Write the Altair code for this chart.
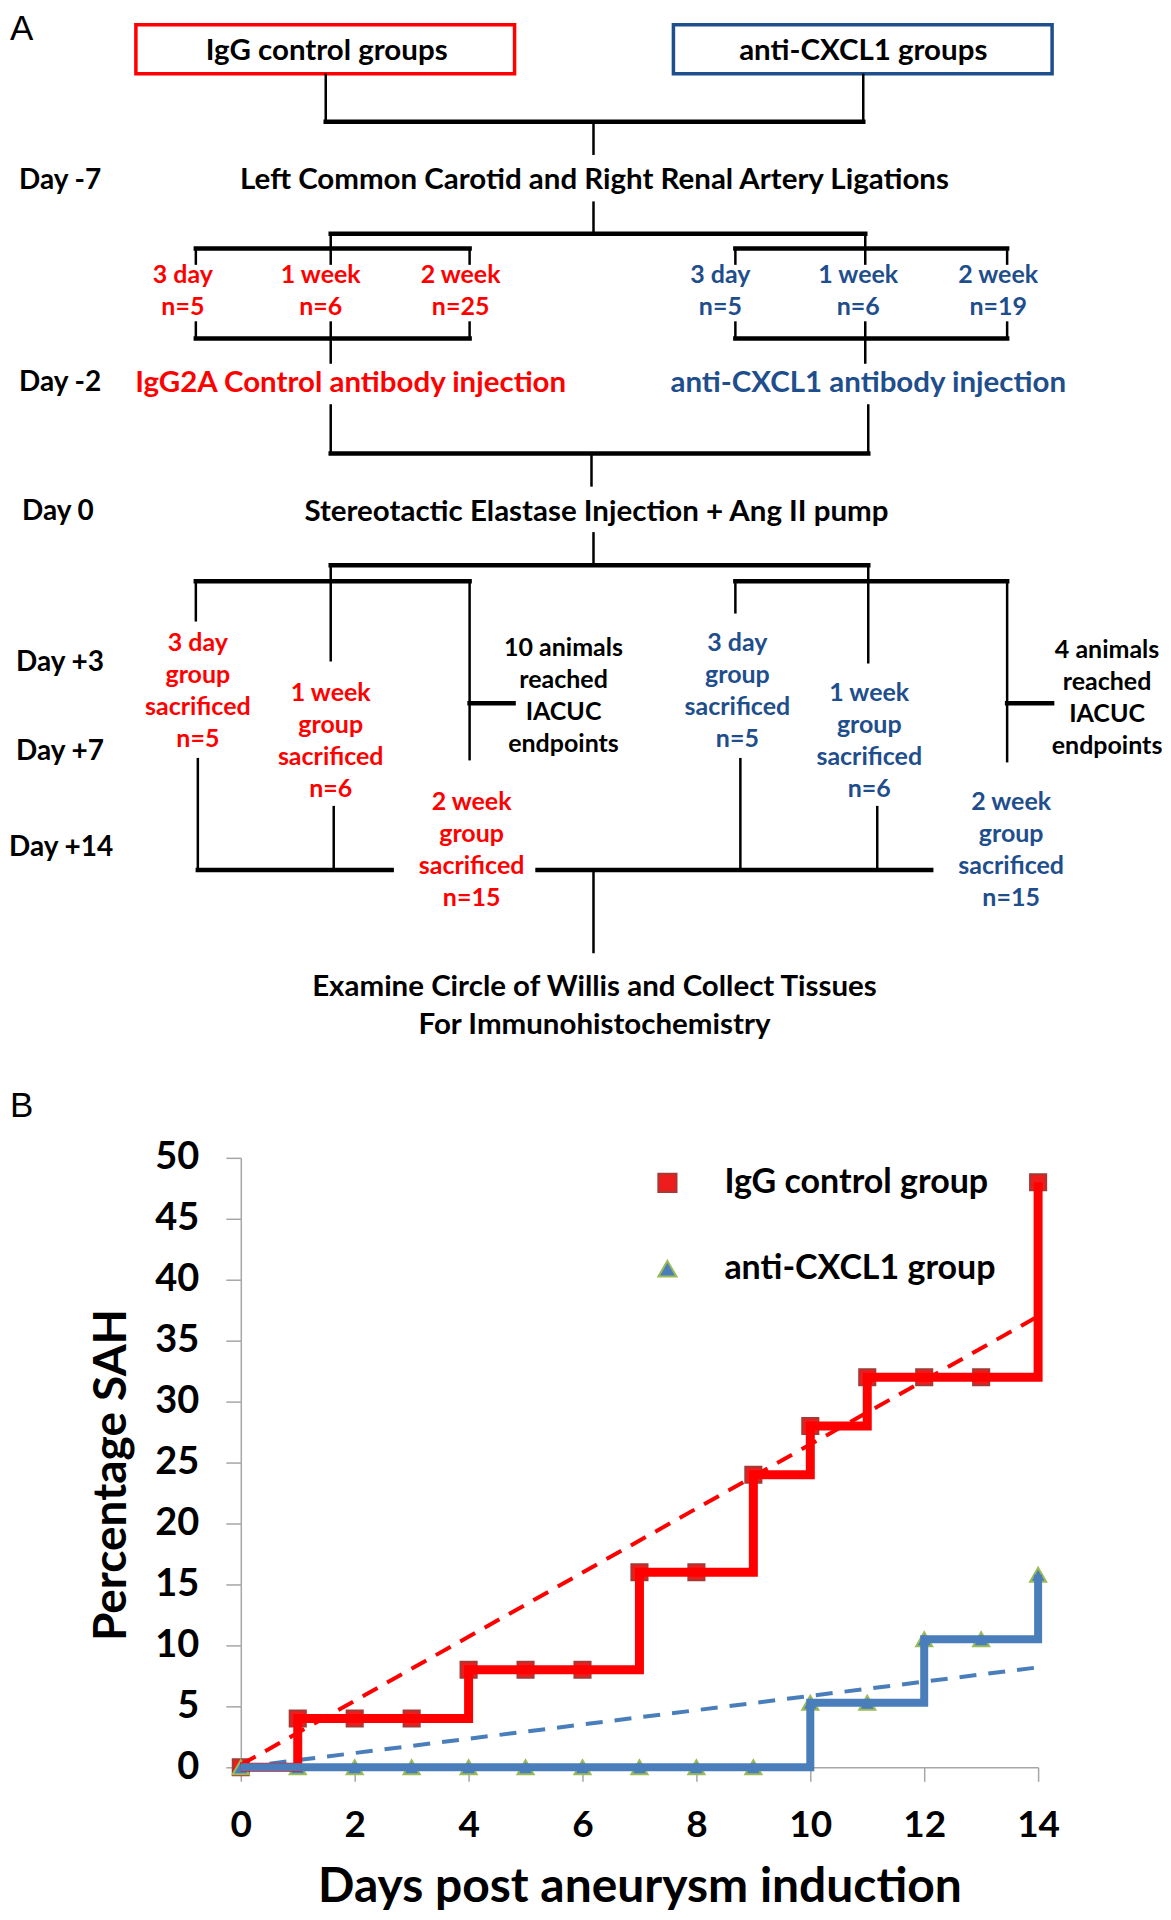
import altair as alt
import pandas as pd

# ---------------- Panel B data ----------------
days = list(range(15))
igg_pct = [0, 4, 4, 4, 8, 8, 8, 16, 16, 24, 28, 32, 32, 32, 48]
cxcl1_pct = [0, 0, 0, 0, 0, 0, 0, 0, 0, 0, 5.3, 5.3, 10.5, 10.5, 15.8]
trend_days = [0, 14]
igg_trend = [0.2, 37.0]
cxcl1_trend = [0.0, 8.2]
groups = ["IgG control group", "anti-CXCL1 group"]
x_ticks = [0, 2, 4, 6, 8, 10, 12, 14]
y_ticks = [0, 5, 10, 15, 20, 25, 30, 35, 40, 45, 50]

# ---------------- Panel A (flow diagram) content ----------------
box_role = ["red", "blue"]
day_text = ["Day -7", "Day -2", "Day 0", "Day +3", "Day +7", "Day +14"]

flow_text = [
    "IgG control groups", "anti-CXCL1 groups",
    "Left Common Carotid and Right Renal Artery Ligations",
    "3 day", "1 week", "2 week", "n=5", "n=6", "n=25",
    "3 day", "1 week", "2 week", "n=5", "n=6", "n=19",
    "IgG2A Control antibody injection", "anti-CXCL1 antibody injection",
    "Stereotactic Elastase Injection + Ang II pump",
    "3 day", "group", "sacrificed", "n=5",
    "1 week", "group", "sacrificed", "n=6",
    "10 animals", "reached", "IACUC", "endpoints",
    "3 day", "group", "sacrificed", "n=5",
    "1 week", "group", "sacrificed", "n=6",
    "4 animals", "reached", "IACUC", "endpoints",
    "2 week", "group", "sacrificed", "n=15",
    "2 week", "group", "sacrificed", "n=15",
    "Examine Circle of Willis and Collect Tissues", "For Immunohistochemistry",
]
flow_role = (
    ["black", "black", "black"]
    + ["red"] * 6 + ["blue"] * 6
    + ["red", "blue", "black"]
    + ["red"] * 8 + ["black"] * 4 + ["blue"] * 8 + ["black"] * 4
    + ["red"] * 4 + ["blue"] * 4
    + ["black", "black"]
)
flow_kind = (
    ["main"] * 3 + ["small"] * 12 + ["main"] * 3 + ["small"] * 32 + ["main"] * 2
)

# ---------------- Panel A layout (page pixels) ----------------
flow_x = (
    [327, 864, 595]
    + [183, 321, 461, 183, 321, 461]
    + [721, 859, 999, 721, 859, 999]
    + [351, 869, 597]
    + [198] * 4 + [331] * 4 + [564] * 4
    + [738] * 4 + [870] * 4 + [1108] * 4
    + [472] * 4 + [1012] * 4
    + [595, 595]
)
flow_y = (
    [50, 50, 179]
    + [274, 274, 274, 306, 306, 306]
    + [274, 274, 274, 306, 306, 306]
    + [383, 383, 512]
    + [643, 675, 707, 739] + [693, 725, 757, 789] + [648, 680, 712, 744]
    + [643, 675, 707, 739] + [693, 725, 757, 789] + [650, 682, 714, 746]
    + [802, 834, 866, 898] + [802, 834, 866, 898]
    + [987, 1025]
)
kind_size = {"main": 29.5, "small": 25}
role_color = {"black": "#000000", "red": "#ff0000", "blue": "#1f4e8c"}

day_x = [19, 19, 22, 16, 16, 9]
day_y = [180, 383, 512, 663, 752, 848]

panel_text = ["A", "B"]
panel_x = [10, 10]
panel_y = [28, 1106]

box_x1 = [136, 674]
box_x2 = [515, 1053]
box_y1 = [24, 24]
box_y2 = [73, 73]

# connector segments (x1, y1, x2, y2)
vert = [
    (326, 74, 326, 121), (864, 74, 864, 121), (594, 121, 594, 153),
    (594, 202, 594, 233), (331, 233, 331, 263), (866, 233, 866, 263),
    (196, 248, 196, 263), (470, 248, 470, 263), (736, 248, 736, 263), (1008, 248, 1008, 263),
    (196, 322, 196, 338), (470, 322, 470, 338), (736, 322, 736, 338), (1008, 322, 1008, 338),
    (331, 322, 331, 362), (866, 322, 866, 362),
    (331, 405, 331, 453), (869, 405, 869, 453), (592, 453, 592, 485),
    (594, 533, 594, 565),
    (331, 565, 331, 660), (869, 565, 869, 662),
    (196, 581, 196, 620), (470, 581, 470, 759), (736, 581, 736, 612), (1008, 581, 1008, 761),
    (198, 759, 198, 870), (334, 807, 334, 870), (741, 759, 741, 870), (878, 807, 878, 870),
    (594, 870, 594, 952),
]
horiz = [
    (326, 121, 864, 121), (331, 233, 866, 233),
    (196, 248, 470, 248), (736, 248, 1008, 248),
    (196, 338, 470, 338), (736, 338, 1008, 338),
    (331, 453, 869, 453), (331, 565, 869, 565),
    (196, 581, 470, 581), (736, 581, 1008, 581),
    (470, 703, 514, 703), (1008, 703, 1053, 703),
    (198, 870, 392, 870), (538, 870, 932, 870),
]

# ---------------- Build panel A ----------------
A_W, A_H = 922, 1142
XDOM = [241, 1163]
YDOM = [8, 1150]


def ax(f):
    return alt.X(f, type="quantitative", scale=alt.Scale(domain=XDOM, nice=False, zero=False), axis=None)


def ay(f):
    return alt.Y(f, type="quantitative", scale=alt.Scale(domain=YDOM, nice=False, zero=False, reverse=True), axis=None)


seg_df = pd.DataFrame(
    [dict(x=a, y=b, x2=c, y2=d, w=2.5) for a, b, c, d in vert]
    + [dict(x=a, y=b, x2=c, y2=d, w=4.5) for a, b, c, d in horiz]
)
rules = alt.Chart(seg_df).mark_rule(color="black", strokeCap="square").encode(
    x=ax("x"), y=ay("y"), x2="x2:Q", y2="y2:Q", size=alt.Size("w:Q", scale=None)
)

box_df = pd.DataFrame({
    "x": box_x1, "x2": box_x2, "y": box_y1, "y2": box_y2,
    "c": [role_color[r] for r in box_role],
})
boxes = alt.Chart(box_df).mark_rect(fill="white", strokeWidth=3.5).encode(
    x=ax("x"), y=ay("y"), x2="x2:Q", y2="y2:Q", stroke=alt.Stroke("c:N", scale=None)
)

txt_df = pd.DataFrame({
    "t": flow_text, "x": flow_x, "y": flow_y,
    "c": [role_color[r] for r in flow_role],
    "s": [kind_size[k] for k in flow_kind],
})
texts = alt.Chart(txt_df).mark_text(font="Lato", fontWeight="bold", align="center", baseline="middle").encode(
    x=ax("x"), y=ay("y"), text="t:N", color=alt.Color("c:N", scale=None), size=alt.Size("s:Q", scale=None)
)

day_df = pd.DataFrame({"t": day_text, "x": day_x, "y": day_y})
days_txt = alt.Chart(day_df).mark_text(font="Lato", fontWeight="bold", fontSize=28, align="left",
                                       baseline="middle", color="black").encode(
    x=ax("x"), y=ay("y"), text="t:N"
)

pan_df = pd.DataFrame({"t": panel_text, "x": panel_x, "y": panel_y})
pan_txt = alt.Chart(pan_df).mark_text(font="Liberation Sans", fontSize=35, align="left",
                                      baseline="middle", color="black").encode(
    x=ax("x"), y=ay("y"), text="t:N"
)

panelA = alt.layer(boxes, rules, texts, days_txt, pan_txt).properties(width=A_W, height=A_H)

# ---------------- Build panel B ----------------
pts = pd.DataFrame({
    "day": days + days,
    "pct": igg_pct + cxcl1_pct,
    "group": [groups[0]] * len(days) + [groups[1]] * len(days),
})
trend = pd.DataFrame({
    "day": trend_days + trend_days,
    "pct": igg_trend + cxcl1_trend,
    "group": [groups[0]] * 2 + [groups[1]] * 2,
})

xB = alt.X("day:Q", scale=alt.Scale(domain=[0, 14], nice=False, zero=False),
           axis=alt.Axis(values=x_ticks, title="Days post aneurysm induction", grid=False,
                         labelFont="Lato", labelFontWeight="bold", labelFontSize=37, labelColor="black",
                         labelPadding=26, labelFlush=False,
                         titleFont="Lato", titleFontWeight="bold", titleFontSize=48, titleColor="black",
                         titlePadding=20,
                         domainColor="#a6a6a6", domainWidth=1.5, tickColor="#a6a6a6", tickWidth=1.5,
                         tickSize=14))
yB = alt.Y("pct:Q", scale=alt.Scale(domain=[0, 50], nice=False),
           axis=alt.Axis(values=y_ticks, title="Percentage SAH", grid=False,
                         labelFont="Lato", labelFontWeight="bold", labelFontSize=38, labelColor="black",
                         labelPadding=27, labelFlush=False,
                         titleFont="Lato", titleFontWeight="bold", titleFontSize=46, titleColor="black",
                         titlePadding=19, titleY=317,
                         domainColor="#a6a6a6", domainWidth=1.5, tickColor="#a6a6a6", tickWidth=1.5,
                         tickSize=15))

leg = alt.Legend(title=None, orient="none", legendX=410, legendY=1158, labelFont="Lato",
                 labelFontWeight="bold", labelFontSize=34, labelColor="black", labelOffset=40,
                 labelLimit=500, rowPadding=52, symbolSize=330, symbolStrokeWidth=2, padding=0)

points = alt.Chart(pts).mark_point(filled=True, size=260, strokeWidth=2, opacity=1).encode(
    x=xB, y=yB,
    color=alt.Color("group:N", scale=alt.Scale(domain=groups, range=["#ee1c1c", "#4a7ebb"]), legend=leg),
    shape=alt.Shape("group:N", scale=alt.Scale(domain=groups, range=["square", "triangle-up"]), legend=leg),
    stroke=alt.Stroke("group:N", scale=alt.Scale(domain=groups, range=["#a33a36", "#9bbb59"]), legend=leg),
)

trend_red = alt.Chart(trend).transform_filter(alt.datum.group == groups[0]).mark_line(
    color="#ff0000", strokeWidth=4, strokeDash=[17, 11]).encode(x=xB, y=yB)
trend_blue = alt.Chart(trend).transform_filter(alt.datum.group == groups[1]).mark_line(
    color="#4a7ebb", strokeWidth=4, strokeDash=[17, 12]).encode(x=xB, y=yB)

step_red = alt.Chart(pts).transform_filter(alt.datum.group == groups[0]).mark_line(
    interpolate="step-after", color="#ff0000", strokeWidth=9).encode(x=xB, y=yB)
step_blue = alt.Chart(pts).transform_filter(alt.datum.group == groups[1]).mark_line(
    interpolate="step-after", color="#4a7ebb", strokeWidth=8).encode(x=xB, y=yB)

panelB = alt.layer(points, trend_red, trend_blue, step_red, step_blue).properties(width=798, height=610)

chart = alt.vconcat(panelA, panelB, spacing=8, bounds="flush").properties(padding=0).configure_view(
    strokeWidth=0)

chart.save("out.html", embed_options={"renderer": "svg", "actions": False})
